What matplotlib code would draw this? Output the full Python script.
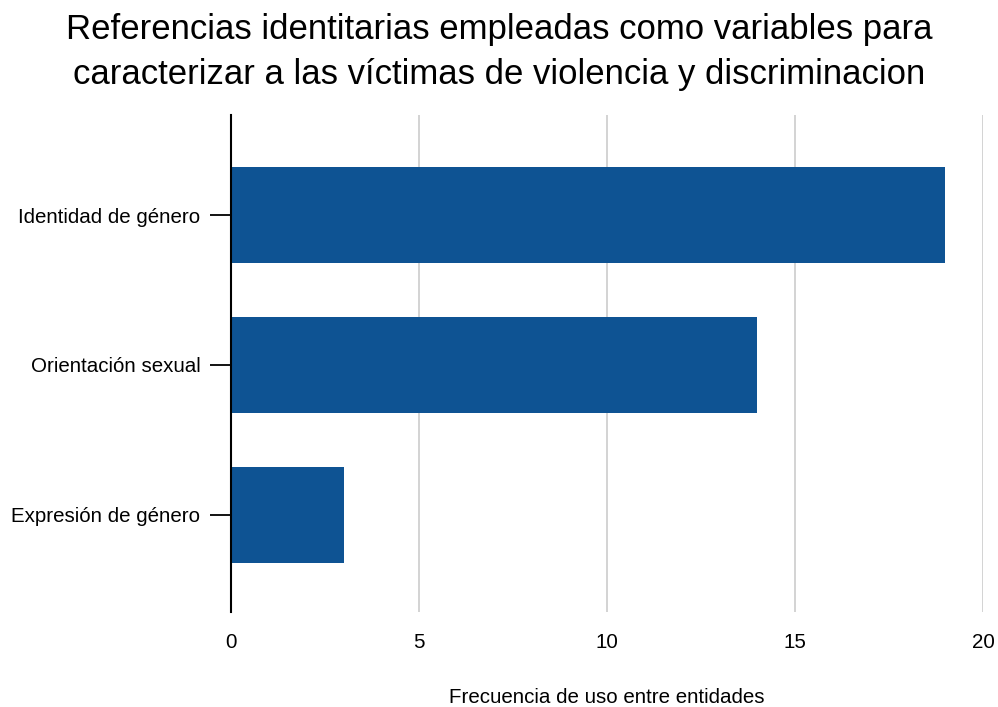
import numpy as np
from matplotlib import pyplot as plt

plt.rcParams['font.family'] = ['Liberation Sans', 'DejaVu Sans']

categories = ['Identidad de género', 'Orientación sexual', 'Expresión de género']
values = [19, 14, 3]
x_ticks = [0, 5, 10, 15, 20]

title = ('Referencias identitarias empleadas como variables para\n'
         'caracterizar a las víctimas de violencia y discriminacion')

fig = plt.figure(figsize=(9.98, 7.07), dpi=100)
ax = fig.add_axes([231 / 998, 1 - 612 / 707, (983 - 231) / 998, (612 - 115) / 707])

y = np.arange(len(categories))
ax.barh(y, values, height=0.64, color='#0e5393', zorder=3)

ax.set_xlim(0, 20)
ax.set_ylim(2.65, -0.67)
ax.set_xticks(x_ticks)
ax.set_yticks(y)
ax.set_yticklabels(categories, fontsize=14.8)
ax.tick_params(axis='x', length=0, labelsize=14.8, pad=15)
ax.tick_params(axis='y', length=15, width=1.3, color='black', pad=7)

ax.grid(axis='x', color='#cccccc', linewidth=1.2, zorder=0)
for s in ['top', 'right', 'bottom']:
    ax.spines[s].set_visible(False)
ax.spines['left'].set_linewidth(1.5)
ax.spines['left'].set_zorder(4)

ax.set_xlabel('Frecuencia de uso entre entidades', fontsize=14.8, labelpad=26)
fig.suptitle(title, fontsize=25, y=1 - 13 / 707, va='top', linespacing=1.45)

fig.savefig('out.png', dpi=100)
